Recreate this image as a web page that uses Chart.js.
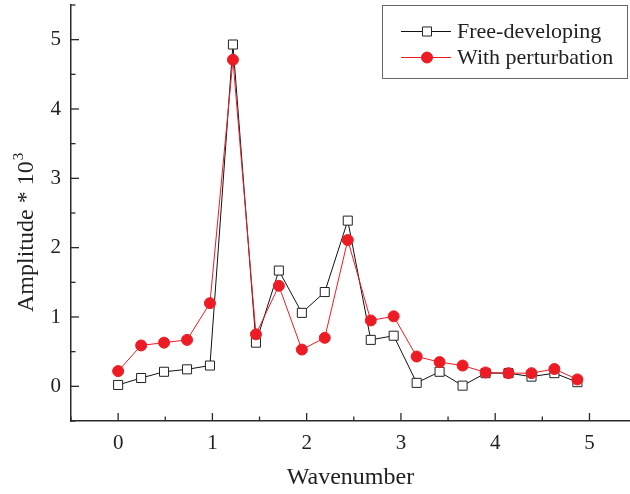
<!DOCTYPE html>
<html><head><meta charset="utf-8">
<script src="https://cdn.jsdelivr.net/npm/chart.js@4.4.1/dist/chart.umd.min.js"></script>
<style>html,body{margin:0;padding:0;background:#fff;}</style>
</head><body>
<canvas id="c" width="630" height="494" style="width:630px;height:494px;display:block"></canvas>
<script>
const wavenumber = [0, 0.244, 0.487, 0.731, 0.974, 1.218, 1.462, 1.705, 1.949, 2.192, 2.436, 2.680, 2.923, 3.167, 3.410, 3.654, 3.898, 4.141, 4.385, 4.628, 4.872];
const freeDeveloping = [0.02, 0.12, 0.21, 0.245, 0.30, 4.93, 0.63, 1.67, 1.06, 1.36, 2.39, 0.67, 0.73, 0.05, 0.21, 0.01, 0.19, 0.19, 0.14, 0.19, 0.06];
const withPerturbation = [0.22, 0.59, 0.63, 0.67, 1.20, 4.71, 0.75, 1.45, 0.53, 0.70, 2.11, 0.95, 1.01, 0.43, 0.35, 0.30, 0.20, 0.19, 0.19, 0.25, 0.10];
const xTickLabels = ['0', '1', '2', '3', '4', '5'];
const yTickLabels = ['0', '1', '2', '3', '4', '5'];
const seriesLabels = ['Free-developing', 'With perturbation'];
const xTitle = 'Wavenumber';
const yTitleMain = 'Amplitude * 10';
const yTitleSup = '3';

const RED = '#ed1c24';
const AXIS = '#2a2a2a';
const TEXT = '#222';
const FONT = '"Liberation Serif", "Times New Roman", serif';

function pts(ys) { return ys.map((y, i) => ({ x: wavenumber[i], y })); }

const decor = {
  id: 'decor',
  afterDraw(chart) {
    const ctx = chart.ctx;
    const xs = chart.scales.x, ys = chart.scales.y, ca = chart.chartArea;
    ctx.save();
    ctx.strokeStyle = AXIS;
    ctx.lineWidth = 1.3;
    for (let v = -0.5; v <= xs.max + 1e-9; v += 0.5) {
      const px = xs.getPixelForValue(v);
      const major = Math.abs(v - Math.round(v)) < 1e-6;
      const len = major ? 8 : 4.5;
      ctx.beginPath(); ctx.moveTo(px, ca.bottom); ctx.lineTo(px, ca.bottom - len); ctx.stroke();
    }
    for (let v = -0.5; v <= ys.max + 1e-9; v += 0.5) {
      const py = ys.getPixelForValue(v);
      const major = Math.abs(v - Math.round(v)) < 1e-6;
      const len = major ? 8 : 4.5;
      ctx.beginPath(); ctx.moveTo(ca.left, py); ctx.lineTo(ca.left + len, py); ctx.stroke();
    }
    ctx.fillStyle = TEXT;
    ctx.translate(33, 312);
    ctx.rotate(-Math.PI / 2);
    ctx.font = '24px ' + FONT;
    ctx.textAlign = 'left';
    ctx.textBaseline = 'alphabetic';
    ctx.fillText(yTitleMain, 0, 0);
    const w = ctx.measureText(yTitleMain).width;
    ctx.font = '15px ' + FONT;
    ctx.fillText(yTitleSup, w + 1, -10);
    ctx.restore();

    ctx.save();
    const lx = 382, ly = 5, lw = 245, lh = 73;
    ctx.strokeStyle = '#666';
    ctx.lineWidth = 1;
    ctx.strokeRect(lx + 0.5, ly + 0.5, lw, lh);
    const rows = [31.5, 57.5];
    chart.data.datasets.forEach((ds, i) => {
      const y = rows[i];
      ctx.strokeStyle = ds.borderColor;
      ctx.lineWidth = 1;
      ctx.beginPath(); ctx.moveTo(401, y); ctx.lineTo(451, y); ctx.stroke();
      ctx.fillStyle = ds.pointBackgroundColor;
      ctx.strokeStyle = ds.pointBorderColor;
      ctx.lineWidth = ds.pointBorderWidth;
      ctx.beginPath();
      if (ds.pointStyle === 'rect') {
        const s = Math.SQRT1_2 * ds.pointRadius;
        ctx.rect(427 - s, y - s, 2 * s, 2 * s);
      } else {
        ctx.arc(427, y, ds.pointRadius, 0, Math.PI * 2);
      }
      ctx.fill(); ctx.stroke();
      ctx.fillStyle = TEXT;
      ctx.font = '22px ' + FONT;
      ctx.textAlign = 'left';
      ctx.textBaseline = 'middle';
      ctx.fillText(ds.label, 457, y + 1);
    });
    ctx.restore();
  }
};

new Chart(document.getElementById('c'), {
  type: 'line',
  data: {
    datasets: [
      {
        label: seriesLabels[0], data: pts(freeDeveloping), order: 2,
        borderColor: '#111', borderWidth: 1,
        pointStyle: 'rect', pointRadius: 6.4, pointBorderWidth: 1,
        pointBackgroundColor: '#fff', pointBorderColor: '#222', tension: 0
      },
      {
        label: seriesLabels[1], data: pts(withPerturbation), order: 1,
        borderColor: RED, borderWidth: 1,
        pointStyle: 'circle', pointRadius: 5.5, pointBorderWidth: 1,
        pointBackgroundColor: RED, pointBorderColor: RED, tension: 0
      }
    ]
  },
  options: {
    responsive: false,
    devicePixelRatio: 1,
    animation: false,
    layout: { autoPadding: false, padding: { top: 5, right: 0, left: 0, bottom: 0 } },
    plugins: { legend: { display: false }, tooltip: { enabled: false } },
    scales: {
      x: {
        type: 'linear', min: -0.5, max: 5.43,
        grid: { display: false, drawTicks: false },
        border: { display: true, color: AXIS, width: 1.5 },
        afterBuildTicks(s) { s.ticks = xTickLabels.map(t => ({ value: Number(t) })); },
        afterFit(s) { s.height = 73; s.paddingLeft = 0; s.paddingRight = 0; },
        ticks: {
          padding: 10, color: TEXT, font: { family: FONT, size: 21 },
          callback: (v) => xTickLabels[xTickLabels.indexOf(String(v))] ?? ''
        },
        title: { display: true, text: xTitle, color: TEXT, font: { family: FONT, size: 24 }, padding: { top: 0, bottom: 2 } }
      },
      y: {
        type: 'linear', min: -0.5, max: 5.5,
        grid: { display: false, drawTicks: false },
        border: { display: true, color: AXIS, width: 1.5 },
        afterBuildTicks(s) { s.ticks = yTickLabels.map(t => ({ value: Number(t) })); },
        afterFit(s) { s.width = 71; s.paddingTop = 0; s.paddingBottom = 0; },
        ticks: {
          padding: 10, color: TEXT, font: { family: FONT, size: 21 },
          callback: (v) => yTickLabels[yTickLabels.indexOf(String(v))] ?? ''
        },
        title: { display: false }
      }
    }
  },
  plugins: [decor]
});
</script>
</body></html>
